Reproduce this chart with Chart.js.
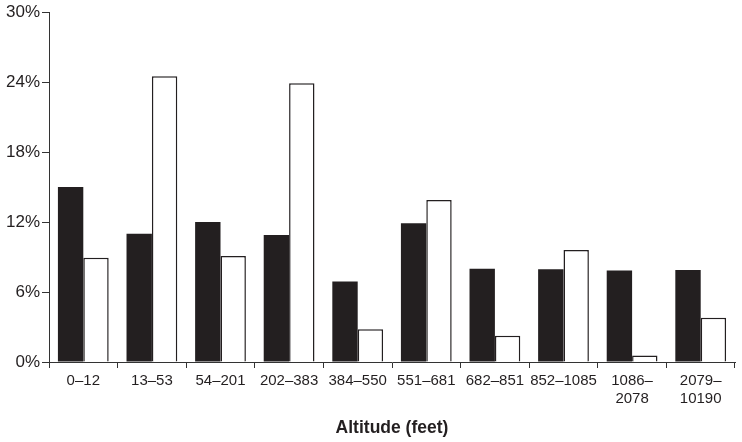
<!DOCTYPE html>
<html>
<head>
<meta charset="utf-8">
<script src="https://cdn.jsdelivr.net/npm/chart.js@4"></script>
<style>
  html, body { margin: 0; padding: 0; background: #fff; }
  #wrap { width: 742px; height: 442px; }
</style>
</head>
<body>
<div id="wrap"><canvas id="myChart"></canvas></div>
<script>
const categorias = ["0\u201312", "13\u201353", "54\u2013201", "202\u2013383", "384\u2013550",
    "551\u2013681", "682\u2013851", "852\u20131085", ["1086\u2013", "2078"], ["2079\u2013", "10190"]];
const serieNegra = [15, 11, 12, 10.9, 6.9, 11.9, 8, 7.95, 7.85, 7.9];
const serieBlanca = [8.95, 24.5, 9.1, 23.9, 2.8, 13.9, 2.25, 9.6, 0.55, 3.8];
const ticksY = [0, 6, 12, 18, 24, 30];

const tinta = "#231f20";

const data = {
    labels: categorias,
    datasets: [
        {
            label: "negro",
            data: serieNegra,
            backgroundColor: tinta,
            borderColor: tinta,
            borderWidth: 0
        },
        {
            label: "blanco",
            data: serieBlanca,
            backgroundColor: "#ffffff",
            borderColor: tinta,
            borderWidth: 1.5
        }
    ]
};

const config = {
    type: "bar",
    data: data,
    options: {
        responsive: true,
        maintainAspectRatio: false,
        animation: false,
        layout: { padding: { top: 12, right: 7, left: 0, bottom: 0 } },
        plugins: {
            legend: { display: false },
            tooltip: { enabled: false }
        },
        datasets: {
            bar: { categoryPercentage: 0.74, barPercentage: 1.0 }
        },
        scales: {
            x: {
                grid: {
                    offset: true,
                    drawOnChartArea: false,
                    drawTicks: true,
                    tickLength: 6,
                    color: "#333"
                },
                border: { color: "#333", width: 1 },
                ticks: {
                    color: tinta,
                    font: { family: "Liberation Sans, Arial, sans-serif", size: 15, lineHeight: 1.25 },
                    padding: 3,
                    maxRotation: 0,
                    autoSkip: false
                },
                title: {
                    display: true,
                    text: "Altitude (feet)",
                    color: tinta,
                    font: { family: "Liberation Sans, Arial, sans-serif", size: 17.5, weight: "bold" },
                    padding: { top: 0, bottom: 3.5 }
                },
                afterFit: (scale) => { scale.height = 80; }
            },
            y: {
                min: 0,
                max: 30,
                afterBuildTicks: (scale) => { scale.ticks = ticksY.map(v => ({ value: v })); },
                grid: {
                    drawOnChartArea: false,
                    drawTicks: true,
                    tickLength: 7,
                    color: "#333"
                },
                border: { color: "#333", width: 1 },
                ticks: {
                    color: tinta,
                    font: { family: "Liberation Sans, Arial, sans-serif", size: 17 },
                    padding: 2,
                    callback: (v) => v + "%"
                },
                afterFit: (scale) => { scale.width = 49; }
            }
        }
    }
};

const myChart = new Chart(document.getElementById("myChart"), config);
</script>
</body>
</html>
